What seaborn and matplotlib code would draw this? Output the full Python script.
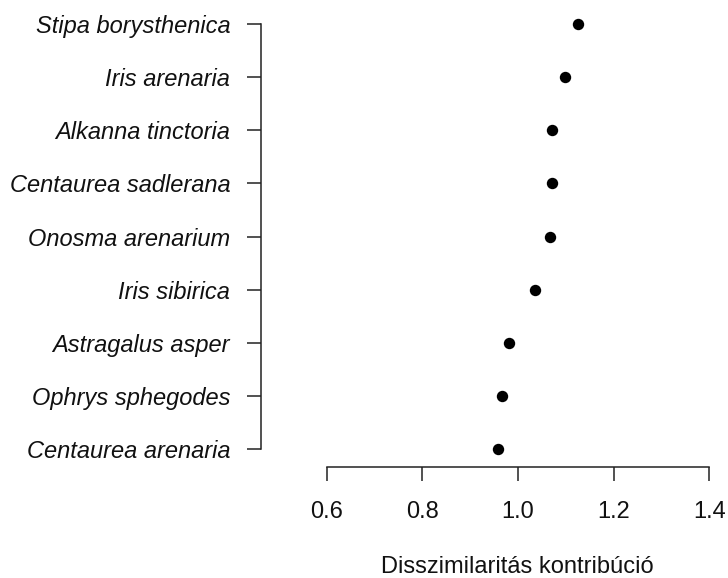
import matplotlib
matplotlib.use("Agg")
import matplotlib.pyplot as plt
import seaborn as sns
import pandas as pd

species = [
    "Stipa borysthenica",
    "Iris arenaria",
    "Alkanna tinctoria",
    "Centaurea sadlerana",
    "Onosma arenarium",
    "Iris sibirica",
    "Astragalus asper",
    "Ophrys sphegodes",
    "Centaurea arenaria",
]
contribution = [1.126, 1.098, 1.072, 1.071, 1.067, 1.036, 0.982, 0.966, 0.959]
xticks = [0.6, 0.8, 1.0, 1.2, 1.4]
xlabel = "Disszimilaritás kontribúció"

sns.set_style("white")
plt.rcParams["font.family"] = ["Liberation Sans", "DejaVu Sans"]

df = pd.DataFrame({"species": species, "contribution": contribution})

W, H = 728, 578
fig = plt.figure(figsize=(W / 100, H / 100), dpi=100)
left_px, right_px, top_px, bottom_px = 260.7, 720.0, 10.0, 466.7
ax = fig.add_axes([left_px / W, (H - bottom_px) / H,
                   (right_px - left_px) / W, (bottom_px - top_px) / H])

sns.stripplot(data=df, x="contribution", y="species", order=species,
              jitter=False, color="black", size=8.2, linewidth=0, ax=ax)

px_per_unit = 478.3
x0 = 0.6 - (326.7 - left_px) / px_per_unit
x1 = 0.6 + (right_px - 326.7) / px_per_unit
ax.set_xlim(x0, x1)
ax.set_ylim(8.333, -0.264)

line_col = "#222222"
for s in ["top", "right"]:
    ax.spines[s].set_visible(False)
for s in ["left", "bottom"]:
    ax.spines[s].set_color(line_col)
    ax.spines[s].set_linewidth(1.1)
ax.spines["bottom"].set_bounds(0.6, 1.4)
ax.spines["left"].set_bounds(0, len(species) - 1)

ax.set_xticks(xticks)
ax.set_xticklabels([f"{t:.1f}" for t in xticks])
ax.tick_params(axis="x", direction="out", length=10, width=1.1, color=line_col,
               labelsize=17, pad=15, bottom=True, labelcolor="#111111")
ax.tick_params(axis="y", direction="out", length=10, width=1.1, color=line_col,
               labelsize=17, pad=12, left=True, labelcolor="#111111")
for lab in ax.get_yticklabels():
    lab.set_fontstyle("italic")

ax.set_ylabel("")
ax.set_xlabel(xlabel, fontsize=17, color="#111111")
ax.xaxis.label.set_va("baseline")
ax.xaxis.set_label_coords((517.5 - left_px) / (right_px - left_px),
                          -(573.3 - bottom_px) / (bottom_px - top_px))
ax.grid(False)

fig.savefig("out.png", dpi=100)
